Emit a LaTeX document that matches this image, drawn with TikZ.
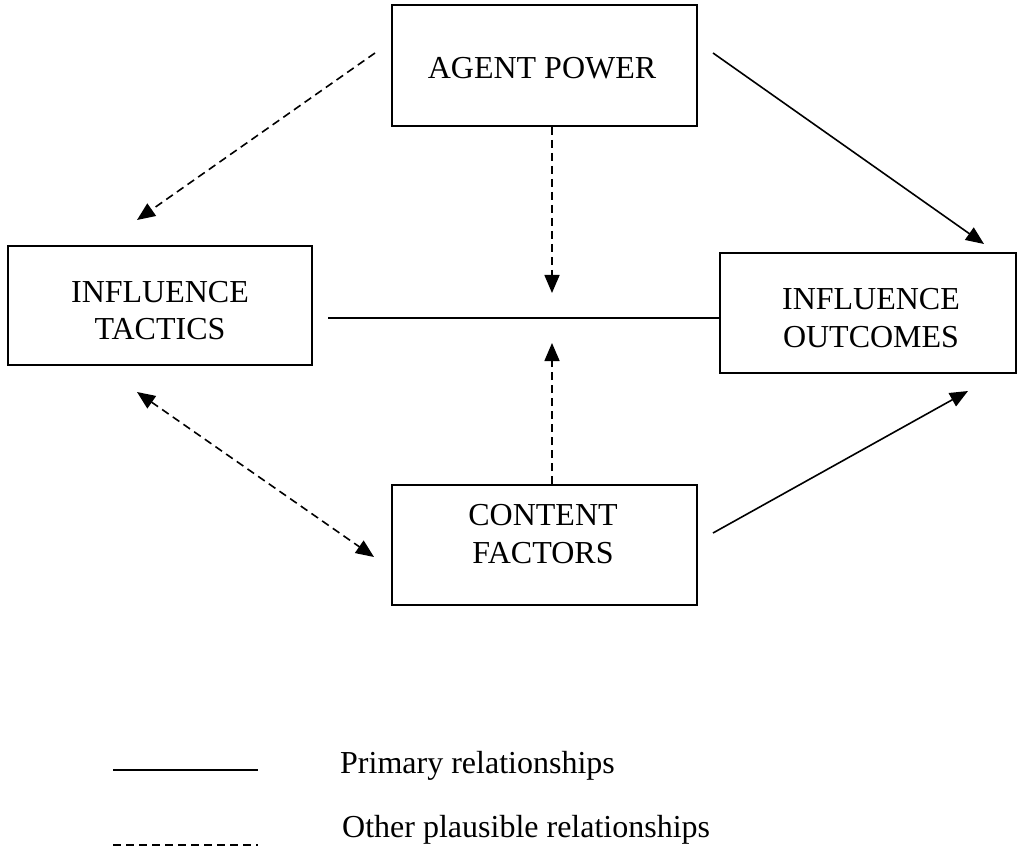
\documentclass[tikz,border=0pt]{standalone}
\usepackage{fontspec}
\setmainfont{Liberation Serif}
\usetikzlibrary{arrows.meta}
\begin{document}
\begin{tikzpicture}[x=1pt,y=-1pt,
  box/.style={draw, line width=2pt, rectangle, inner sep=0pt},
  lbl/.style={align=center, inner sep=0pt, font=\fontsize{32}{37.5}\selectfont},
  legtext/.style={anchor=base west, inner sep=0pt, font=\fontsize{32}{37.5}\selectfont},
  solidline/.style={line width=1.6pt},
  dashline/.style={line width=1.6pt, dash pattern=on 8pt off 5pt},
  tip/.style={-{Triangle[length=18pt,width=15pt]}},
  bothtip/.style={{Triangle[length=18pt,width=15pt]}-{Triangle[length=18pt,width=15pt]}}
]
\useasboundingbox (0,0) rectangle (1017,850);
% boxes
\node[box, minimum width=305pt, minimum height=121pt] (ap) at (544.5,65.5) {};
\node[box, minimum width=304pt, minimum height=119pt] (it) at (160,305.5) {};
\node[box, minimum width=296pt, minimum height=120pt] (io) at (868,313) {};
\node[box, minimum width=305pt, minimum height=120pt] (cf) at (544.5,545) {};
% labels
\node[lbl] (apt) at (542,68.4) {AGENT POWER};
\node[lbl] (itt) at (160,310.5) {INFLUENCE\\TACTICS};
\node[lbl] (iot) at (871,318) {INFLUENCE\\OUTCOMES};
\node[lbl] (cft) at (543,534) {CONTENT\\FACTORS};
% connectors
\coordinate (hm) at (552,318);
\draw[solidline, tip] ([shift={(15,-12.5)}]ap.east) -- ([shift={(-33,-8)}]io.north east);
\draw[dashline, tip] ([shift={(-16,-12.5)}]ap.west) -- ([shift={(-23,-25)}]it.north);
\draw[dashline, tip] ([shift={(7.5,0)}]ap.south) -- ([shift={(0,-25)}]hm);
\draw[solidline] ([shift={(15,12.5)}]it.east) -- ([shift={(0,5)}]io.west);
\draw[dashline, tip] ([shift={(7.5,0)}]cf.north) -- ([shift={(0,25)}]hm);
\draw[dashline, bothtip] ([shift={(-23,26)}]it.south) -- ([shift={(-17,12)}]cf.west);
\draw[solidline, tip] ([shift={(15,-12)}]cf.east) -- ([shift={(-49,17)}]io.south east);
% legend
\coordinate (l1a) at (113,770);
\coordinate (l1b) at (258,770);
\coordinate (l2a) at (113,845);
\coordinate (l2b) at (258,845);
\draw[solidline] (l1a) -- (l1b);
\draw[dashline] (l2a) -- (l2b);
\node[legtext] (lt1) at (340,773) {Primary relationships};
\node[legtext] (lt2) at (342,837) {Other plausible relationships};
\end{tikzpicture}
\end{document}
